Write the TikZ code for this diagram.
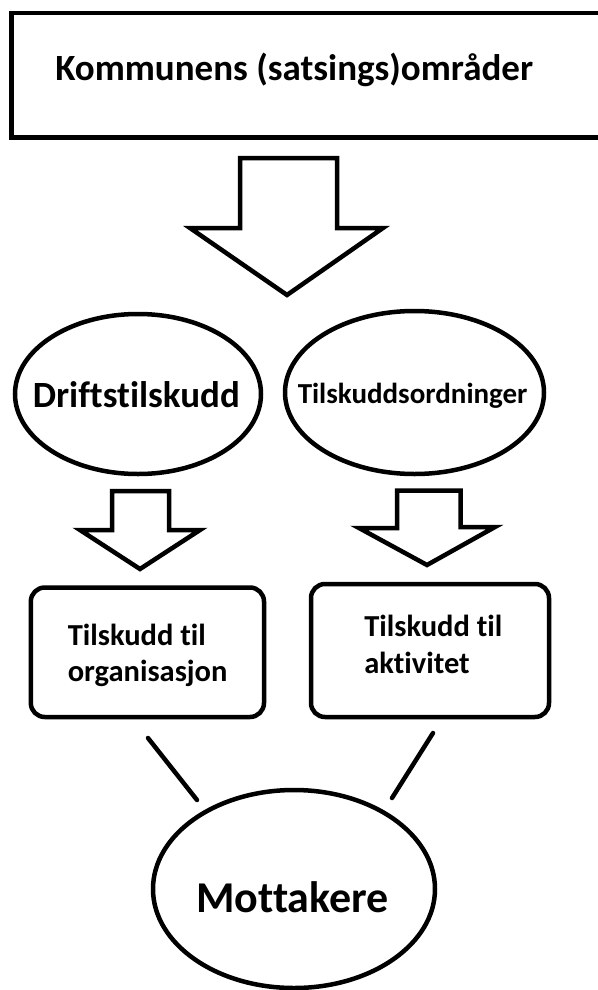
\documentclass[tikz,border=0pt]{standalone}
\usepackage{fontspec}
\setmainfont{Carlito}[RawFeature={-liga;-clig;-dlig}]
\begin{document}
\begin{tikzpicture}[x=1pt,y=-1pt,line width=4.5pt,line join=miter,
  txt/.style={inner sep=0pt,anchor=base west},
  fbig/.style={font=\bfseries\fontsize{37}{42}\selectfont},
  fmid/.style={font=\bfseries\fontsize{29}{35}\selectfont},
  fbox/.style={font=\bfseries\fontsize{30.5}{36}\selectfont},
  fmot/.style={font=\bfseries\fontsize{44}{50}\selectfont},
  bigarrow/.style={draw,fill=white},
  roundbox/.style={draw,rounded corners=14pt}]
\useasboundingbox (0,0) rectangle (597,990);
\fill[white] (0,0) rectangle (597,990);
% top box
\draw (11.7,12.8) rectangle (612,137.5);
\node[txt,fbig] (kom) at (53,81) {Kommunens (satsings)områder};
% big arrow
\draw[bigarrow] (240,158) -- (337,158) -- (337,228) -- (383,228) -- (287,295) -- (190,228) -- (240,228) -- cycle;
% ellipses
\draw (138,394) ellipse [x radius=123, y radius=80];
\node[txt,fbig] (drift) at (30.5,407) {Driftstilskudd};
\draw (414.5,392.5) ellipse [x radius=129.5, y radius=81.5];
\node[txt,fmid] (ordn) at (295.5,403.3) {Tilskuddsordninger};
% small arrows
\draw[bigarrow] (112,491) -- (169,491) -- (169,530) -- (200,530) -- (140,569) -- (80,530) -- (112,530) -- cycle;
\draw[bigarrow] (397,490.5) -- (460.5,490.5) -- (460.5,527) -- (495,527) -- (427,565) -- (359,528) -- (397,528) -- cycle;
% boxes
\draw[roundbox] (30.8,587.5) rectangle (264,717);
\node[txt,fbox] (org1) at (65.5,645) {Tilskudd til};
\node[txt,fbox] (org2) at (65.5,681.7) {organisasjon};
\draw[roundbox] (311,584) rectangle (549,717);
\node[txt,fbox] (akt1) at (362,636.7) {Tilskudd til};
\node[txt,fbox] (akt2) at (362,673) {aktivitet};
% connectors
\coordinate (la) at (148,738);
\coordinate (lb) at (197,800);
\coordinate (ra) at (433,733);
\coordinate (rb) at (392,798);
\draw[line cap=round] (la) -- (lb);
\draw[line cap=round] (ra) -- (rb);
% Mottakere
\draw (294,889) ellipse [x radius=141, y radius=99];
\node[txt,fmot] (mot) at (194,912) {Mottakere};
\end{tikzpicture}
\end{document}
